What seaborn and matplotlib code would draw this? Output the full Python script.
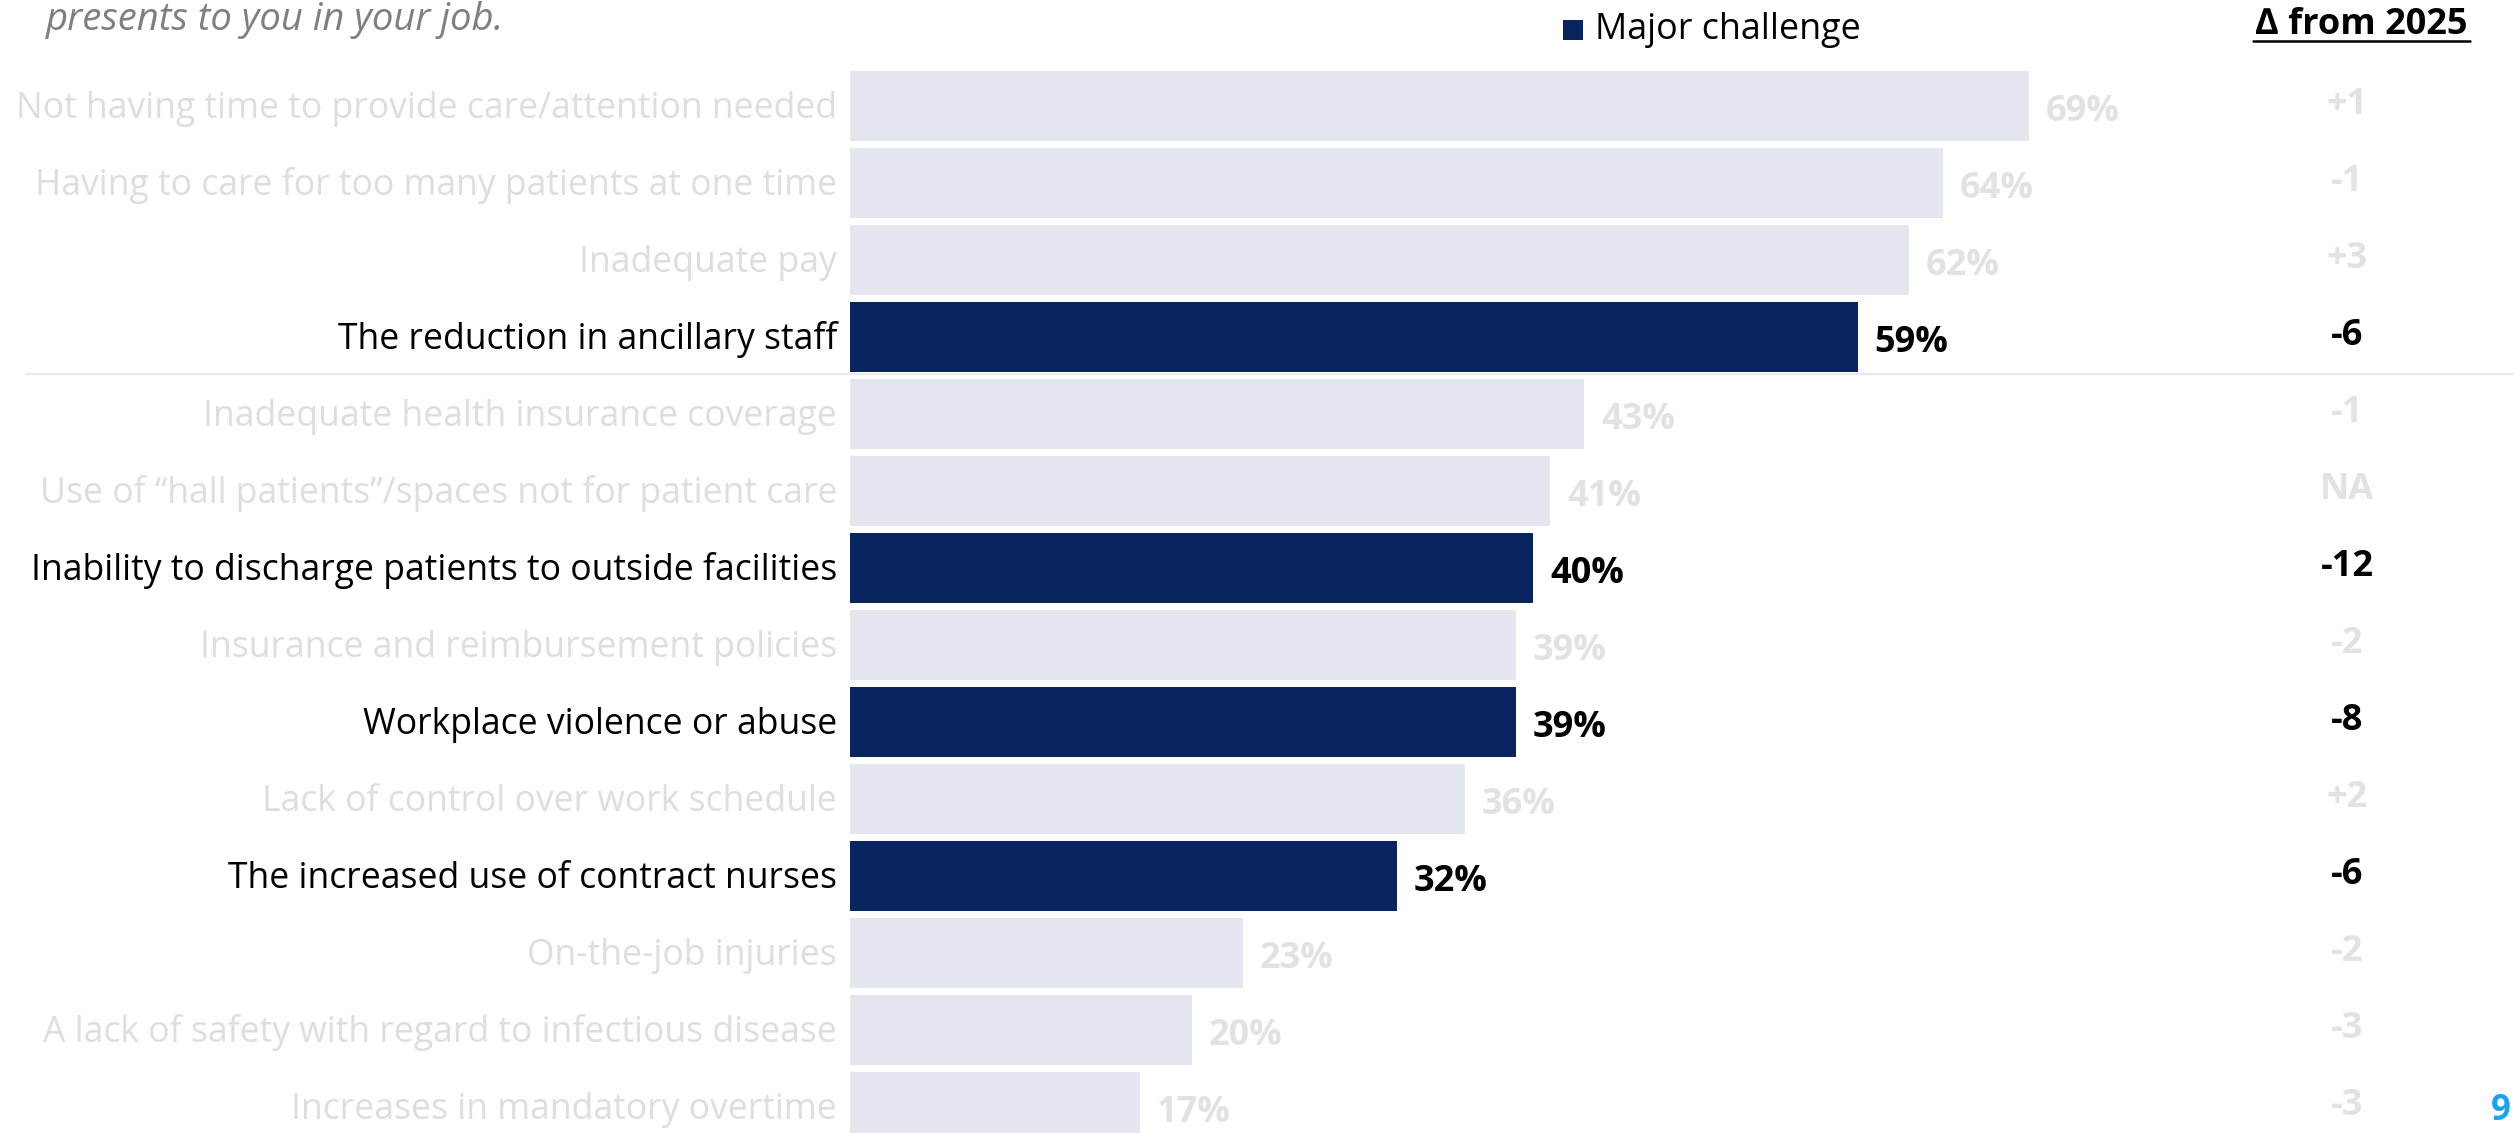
import matplotlib
matplotlib.use("Agg")
import matplotlib.pyplot as plt
import seaborn as sns
import pandas as pd
from matplotlib.lines import Line2D
from matplotlib.patches import Rectangle

# --- data -------------------------------------------------------------
categories = [
    "Not having time to provide care/attention needed",
    "Having to care for too many patients at one time",
    "Inadequate pay",
    "The reduction in ancillary staff",
    "Inadequate health insurance coverage",
    "Use of \u201chall patients\u201d/spaces not for patient care",
    "Inability to discharge patients to outside facilities",
    "Insurance and reimbursement policies",
    "Workplace violence or abuse",
    "Lack of control over work schedule",
    "The increased use of contract nurses",
    "On-the-job injuries",
    "A lack of safety with regard to infectious disease",
    "Increases in mandatory overtime",
]
major_challenge = [69, 64, 62, 59, 43, 41, 40, 39, 39, 36, 32, 23, 20, 17]
delta_from_2025 = ["+1", "-1", "+3", "-6", "-1", "NA", "-12", "-2", "-8", "+2", "-6", "-2", "-3", "-3"]
highlighted = [False, False, False, True, False, False, True, False, True, False, True, False, False, False]

subtitle_tail = "presents to you in your job."
legend_label = "Major challenge"
delta_header = "\u2206 from 2025"
page_number = "9"

# --- style -------------------------------------------------------------
NAVY = "#08255f"
PALE = "#e4e7ef"
FADED_TEXT = "#dedede"
FADED_VALUE = "#e2e2e2"

sns.set_theme(style="white")
plt.rcParams["font.family"] = ["Open Sans", "DejaVu Sans"]

W, H, DPI = 2514, 1133, 100
fig = plt.figure(figsize=(W / DPI, H / DPI), dpi=DPI)
fig.patch.set_facecolor("white")

x0 = 850            # pixel where the bars start
px_per_pct = 17.08  # horizontal scale
row_pitch = 77      # vertical distance between bars (px)
first_row = 106     # centre of the first bar from the top (px)

ax = fig.add_axes([x0 / W, 0, 1 - x0 / W, 1])

df = pd.DataFrame({"category": categories, "pct": major_challenge})
palette = [NAVY if h else PALE for h in highlighted]
sns.barplot(data=df, y="category", x="pct", hue="category", palette=palette,
            legend=False, width=0.91, orient="h", saturation=1,
            linewidth=0, ax=ax)

ax.set_xlim(0, (W - x0) / px_per_pct)
ax.set_ylim((H - first_row) / row_pitch, -first_row / row_pitch)
ax.axis("off")

label_gap = 13 / px_per_pct
value_gap = 17 / px_per_pct
delta_x = (2347 - x0) / px_per_pct

for i, (cat, v, d, hl) in enumerate(zip(categories, major_challenge, delta_from_2025, highlighted)):
    ax.text(-label_gap, i + 0.15, cat, ha="right", va="baseline",
            fontsize=25.6, color="black" if hl else FADED_TEXT)
    ax.text(v + value_gap, i + 0.195, f"{v}%", ha="left", va="baseline",
            fontsize=26, fontweight="bold", color="black" if hl else FADED_VALUE)
    ax.text(delta_x, i + 0.11, d, ha="center", va="baseline",
            fontsize=26, fontweight="bold", color="black" if hl else FADED_VALUE)

# divider under the top group
fig.add_artist(Line2D([26 / W, 1.0], [1 - 374 / H, 1 - 374 / H],
                      color="#e9ebf1", lw=1.6, transform=fig.transFigure))

# subtitle (second line, partly above the canvas)
fig.text(46 / W, 1 - 30 / H, subtitle_tail, ha="left", va="baseline",
         fontsize=27.5, fontstyle="italic", color="#7f7f7f")

# legend
fig.add_artist(Rectangle((1563 / W, 1 - 40 / H), 20 / W, 20 / H,
                         facecolor=NAVY, edgecolor="none", transform=fig.transFigure))
fig.text(1595 / W, 1 - 39 / H, legend_label, ha="left", va="baseline",
         fontsize=25.8, color="black")

# delta column header, underlined
fig.text(2361 / W, 1 - 34 / H, delta_header, ha="center", va="baseline",
         fontsize=26, fontweight="bold", color="black")
fig.add_artist(Line2D([2253 / W, 2470 / W], [1 - 41 / H, 1 - 41 / H],
                      color="black", lw=1.8, transform=fig.transFigure))

# page number
fig.text(2501 / W, 1 - 1120 / H, page_number, ha="center", va="baseline",
         fontsize=25, fontweight="bold", color="#1aa3f5")

fig.savefig("out.png", dpi=DPI, facecolor="white")
